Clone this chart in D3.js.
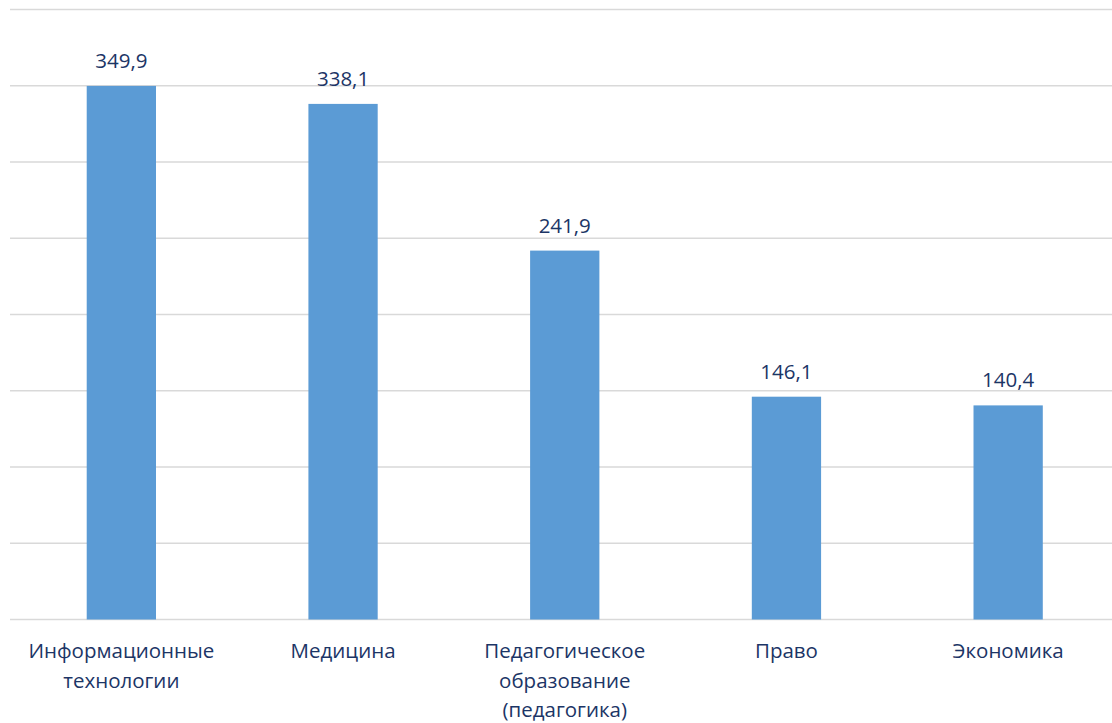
<!DOCTYPE html>
<html>
<head>
<meta charset="utf-8">
<script src="https://cdn.jsdelivr.net/npm/d3@7"></script>
<style>
  body { margin: 0; background: #fff; }
  svg { display: block; font-family: "Open Sans", sans-serif; }
</style>
</head>
<body>
<svg width="1112" height="723"></svg>
<script>
var categories = [
  ["Информационные", "технологии"],
  ["Медицина"],
  ["Педагогическое", "образование", "(педагогика)"],
  ["Право"],
  ["Экономика"]
];
var values = [349.9, 338.1, 241.9, 146.1, 140.4];
var gridTicks = [0, 50, 100, 150, 200, 250, 300, 350, 400];

var svg = d3.select("svg"),
    textColor = "#1c3566";

var x = d3.scaleBand()
    .domain(d3.range(values.length))
    .range([10.5, 1119])
    .paddingInner(0.6875)
    .paddingOuter(0.34375);

var y = d3.scaleLinear().domain([0, 400]).range([619.5, 9.5]);

// gridlines
svg.append("g")
  .selectAll("line")
  .data(gridTicks)
  .enter().append("line")
    .attr("x1", 10)
    .attr("x2", 1112)
    .attr("y1", function(d) { return y(d); })
    .attr("y2", function(d) { return y(d); })
    .attr("stroke", "#d9d9d9")
    .attr("stroke-width", 1.5);

// bars
svg.append("g")
  .selectAll("rect")
  .data(values)
  .enter().append("rect")
    .attr("x", function(d, i) { return x(i); })
    .attr("y", function(d) { return y(d); })
    .attr("width", x.bandwidth())
    .attr("height", function(d) { return y(0) - y(d); })
    .attr("fill", "#5b9bd5");

// value labels
svg.append("g")
  .selectAll("text")
  .data(values)
  .enter().append("text")
    .attr("x", function(d, i) { return x(i) + x.bandwidth() / 2; })
    .attr("y", function(d) { return y(d) - 18; })
    .attr("text-anchor", "middle")
    .attr("fill", textColor)
    .style("font-size", "20.5px")
    .text(function(d) { return d3.format(".1f")(d).replace(".", ","); });

// category labels
var cat = svg.append("g")
  .selectAll("text")
  .data(categories)
  .enter().append("text")
    .attr("text-anchor", "middle")
    .attr("fill", textColor)
    .style("font-size", "20.5px")
    .attr("transform", function(d, i) {
      return "translate(" + (x(i) + x.bandwidth() / 2) + ",658)";
    });

cat.selectAll("tspan")
  .data(function(d) { return d; })
  .enter().append("tspan")
    .attr("x", 0)
    .attr("y", function(d, j) { return j * 29.5; })
    .text(function(d) { return d; });
</script>
</body>
</html>
